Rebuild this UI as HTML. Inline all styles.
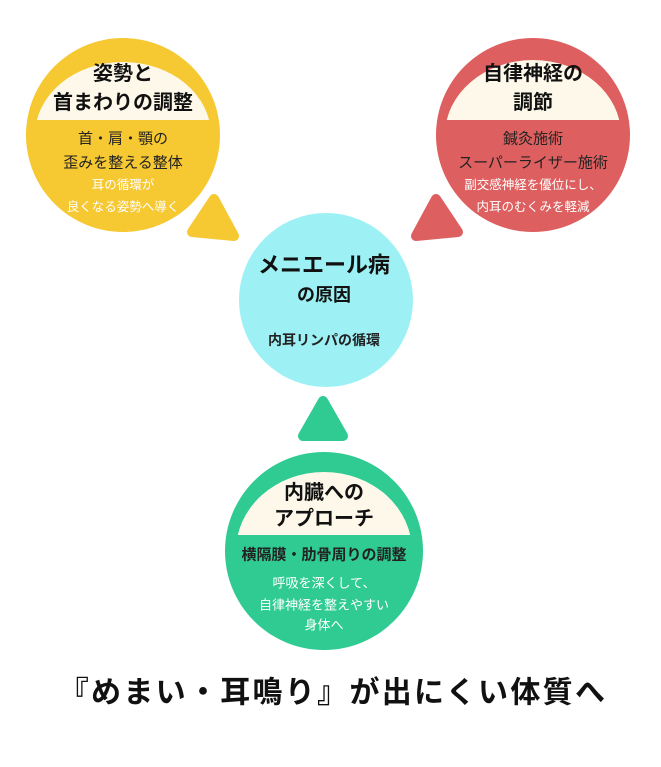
<!DOCTYPE html>
<html><head><meta charset="utf-8"><style>
html,body{margin:0;padding:0;background:#fff;}
svg text{font-family:"Liberation Sans","Noto Sans CJK JP",sans-serif;text-anchor:middle;dominant-baseline:central;}
</style></head><body>
<svg width="661" height="762" viewBox="0 0 661 762" xmlns="http://www.w3.org/2000/svg">
<defs>
<clipPath id="cy"><rect x="0" y="0" width="661" height="120"/></clipPath>
<clipPath id="cg"><rect x="0" y="400" width="661" height="135"/></clipPath>
</defs>
<polygon points="214,199 192,232 234,236" fill="#F6C832" stroke="#F6C832" stroke-width="10" stroke-linejoin="round"/>
<polygon points="436,199 458,232 416,236" fill="#DE5F5F" stroke="#DE5F5F" stroke-width="10" stroke-linejoin="round"/>
<polygon points="323,401 303,436 343,436" fill="#2FCB93" stroke="#2FCB93" stroke-width="10" stroke-linejoin="round"/>
<circle cx="123" cy="135" r="97" fill="#F6C832"/>
<ellipse cx="123" cy="135" rx="88" ry="73" fill="#FDF8E9" clip-path="url(#cy)"/>
<text x="123" y="74" font-size="20" font-weight="bold" fill="#111">姿勢と</text>
<text x="123" y="103" font-size="20" font-weight="bold" fill="#111">首まわりの調整</text>
<text x="123" y="139" font-size="15" fill="#222">首・肩・顎の</text>
<text x="123" y="163" font-size="15" fill="#222">歪みを整える整体</text>
<text x="123" y="185" font-size="12.5" fill="#fff">耳の循環が</text>
<text x="123" y="207" font-size="12.5" fill="#fff">良くなる姿勢へ導く</text>
<circle cx="533" cy="135" r="97" fill="#DE5F5F"/>
<ellipse cx="533" cy="135" rx="88" ry="75" fill="#FDF8E9" clip-path="url(#cy)"/>
<text x="533" y="74" font-size="20" font-weight="bold" fill="#111">自律神経の</text>
<text x="533" y="103" font-size="20" font-weight="bold" fill="#111">調節</text>
<text x="533" y="139" font-size="15" fill="#222">鍼灸施術</text>
<text x="533" y="163" font-size="15" fill="#222">スーパーライザー施術</text>
<text x="533" y="185" font-size="12.5" fill="#fff">副交感神経を優位にし、</text>
<text x="533" y="207" font-size="12.5" fill="#fff">内耳のむくみを軽減</text>
<circle cx="326" cy="300" r="87" fill="#9DF1F4"/>
<text x="324" y="265" font-size="22" font-weight="bold" fill="#111">メニエール病</text>
<text x="324" y="295" font-size="18" font-weight="bold" fill="#111">の原因</text>
<text x="324" y="340" font-size="14" font-weight="bold" fill="#222">内耳リンパの循環</text>
<circle cx="324" cy="551" r="99" fill="#2FCB93"/>
<ellipse cx="324" cy="551" rx="88" ry="79" fill="#FDF8E9" clip-path="url(#cg)"/>
<text x="324" y="493" font-size="20" font-weight="bold" fill="#111">内臓への</text>
<text x="324" y="519" font-size="20" font-weight="bold" fill="#111">アプローチ</text>
<text x="324" y="555" font-size="15" font-weight="bold" fill="#222">横隔膜・肋骨周りの調整</text>
<text x="324" y="583" font-size="13" fill="#fff">呼吸を深くして、</text>
<text x="324" y="605" font-size="13" fill="#fff">自律神経を整えやすい</text>
<text x="324" y="625" font-size="13" fill="#fff">身体へ</text>
<text x="333" y="693" font-size="30" font-weight="bold" fill="#111" letter-spacing="2.3">『めまい・耳鳴り』が出にくい体質へ</text>
</svg>
</body></html>
